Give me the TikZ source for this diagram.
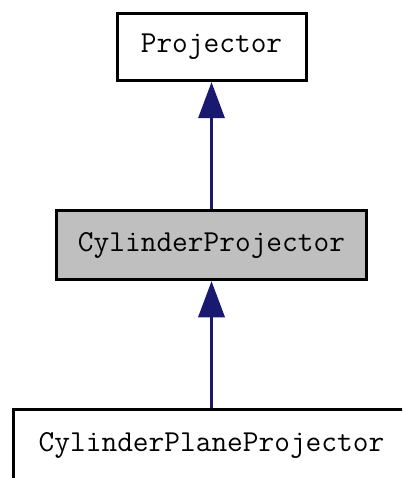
\documentclass[tikz,border=0pt]{standalone}
\usepackage{fontspec}
\setmonofont{Latin Modern Mono}
\usetikzlibrary{arrows.meta}
\definecolor{edgeblue}{HTML}{191970}
\definecolor{boxgray}{HTML}{BFBFBF}
\begin{document}
\begin{tikzpicture}[x=1pt,y=1pt,
  classbox/.style={draw=black, line width=3pt, rectangle, inner sep=0pt,
    font=\fontsize{30.5}{31}\selectfont\ttfamily},
  inherit/.style={draw=edgeblue, line width=2.2pt,
    -{Triangle[width=27pt,length=36pt,line width=0pt,fill=edgeblue]}}]
\useasboundingbox (0,0) rectangle (402,-478);
\clip (0,0) rectangle (402,-478);
\node[classbox, minimum width=189, minimum height=67.5] (p) at (211.5,-47) {Projector};
\node[classbox, fill=boxgray, minimum width=310.5, minimum height=69.5] (cp) at (211.5,-245) {CylinderProjector};
\node[classbox, minimum width=396, minimum height=72] (cpp) at (211.5,-445.5) {CylinderPlaneProjector};
\draw[inherit] (cp.north) -- (p.south);
\draw[inherit] (cpp.north) -- (cp.south);
\end{tikzpicture}
\end{document}
